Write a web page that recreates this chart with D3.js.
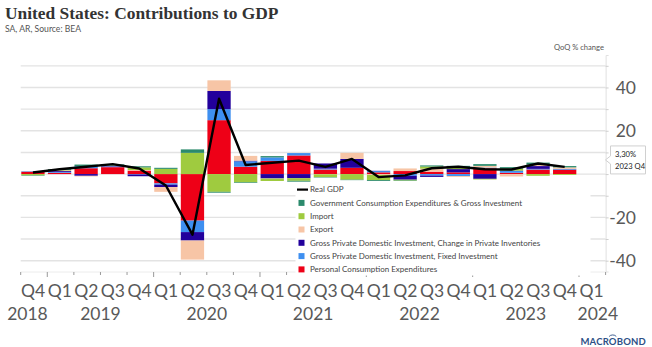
<!DOCTYPE html>
<html>
<head>
<meta charset="utf-8">
<script src="https://cdn.jsdelivr.net/npm/d3@7"></script>
<style>
  html, body { margin: 0; padding: 0; background: #fff; }
  svg { display: block; }
</style>
</head>
<body>
<svg id="chart" width="652" height="347"></svg>
<script>
// Quarterly periods on the category axis (last one has no data yet)
const periods = ["2018 Q4",
  "2019 Q1","2019 Q2","2019 Q3","2019 Q4",
  "2020 Q1","2020 Q2","2020 Q3","2020 Q4",
  "2021 Q1","2021 Q2","2021 Q3","2021 Q4",
  "2022 Q1","2022 Q2","2022 Q3","2022 Q4",
  "2023 Q1","2023 Q2","2023 Q3","2023 Q4",
  "2024 Q1"];

// Real GDP, QoQ % change, SAAR
const realGdp = [0.7, 2.2, 3.4, 4.6, 2.6, -5.3, -28.0, 34.8, 4.2, 5.2, 6.2, 3.3, 7.0,
  -1.4, -0.6, 2.7, 3.4, 2.2, 2.1, 4.9, 3.3];

// Contributions to GDP growth, percentage points
const pce = [1.0, 0.6, 2.7, 3.2, 1.6, -4.3, -21.5, 24.9, 3.4, 6.1, 8.6, 2.1, 2.9,
  0.8, 1.4, 1.1, 0.8, 2.7, 0.6, 2.1, 2.0];
const fixedInvestment = [0.2, 0.4, 0.9, 0.3, -0.2, -0.6, -5.3, 5.1, 2.5, 1.6, 1.1, 0.4, 0.0,
  0.6, -0.8, -0.7, -0.9, 0.3, 0.9, 0.3, 0.3];
const inventories = [0.1, 0.4, -0.8, 0.2, -0.8, -1.1, -3.9, 8.4, 0.3, -2.0, -1.9, 2.4, 4.1,
  0.1, -1.8, -0.6, 1.5, -2.2, 0.1, 1.3, 0.1];
const exportsC = [0.1, 0.3, -0.3, 0.2, 0.3, -2.2, -8.8, 4.9, 2.2, -0.1, 0.0, -0.1, 2.8,
  -0.4, 1.2, 1.4, -0.4, 0.8, -1.1, 0.6, 0.7];
const importsC = [-0.6, 0.2, 0.0, 0.0, 1.2, 2.4, 9.8, -8.2, -3.8, -1.1, -1.2, -1.3, -2.6,
  -2.4, -0.4, 1.0, 0.6, -0.3, 0.9, -0.8, -0.4];
const government = [-0.2, 0.4, 0.8, 0.6, 0.5, 0.5, 1.6, -0.4, -0.3, 0.6, -0.4, -0.2, -0.2,
  -0.4, -0.2, 0.5, 0.9, 0.8, 0.7, 1.0, 0.6];

// Y axis ticks
const yGridTicks = [-40, -30, -20, -10, 0, 10, 20, 30, 40, 50];
const yLabelTicks = [-40, -20, 20, 40];

// Series definitions (stack order, bottom up)
const seriesKeys = ["pce", "fixed", "inv", "exp", "imp", "gov"];
const seriesNames = {
  gdp: "Real GDP",
  gov: "Government Consumption Expenditures & Gross Investment",
  imp: "Import",
  exp: "Export",
  inv: "Gross Private Domestic Investment, Change in Private Inventories",
  fixed: "Gross Private Domestic Investment, Fixed Investment",
  pce: "Personal Consumption Expenditures"
};
const colors = {
  pce: "#ee0017", fixed: "#3e8ff0", inv: "#22009c",
  exp: "#f7c5a6", imp: "#9fcb3f", gov: "#2b8a6c"
};
const legendOrder = ["gdp", "gov", "imp", "exp", "inv", "fixed", "pce"];

const rows = realGdp.map((g, i) => ({
  period: periods[i], gdp: g,
  pce: pce[i], fixed: fixedInvestment[i], inv: inventories[i],
  exp: exportsC[i], imp: importsC[i], gov: government[i]
}));

const svg = d3.select("#chart");
const plot = { left: 20.7, right: 605.6, top: 55, bottom: 271.5 };

const x = d3.scaleBand().domain(periods).range([plot.left, plot.right]).padding(0);
const y = d3.scaleLinear().domain([-45, 55]).range([plot.bottom, plot.top]);

// Title and subtitle
svg.append("text").attr("x", 5).attr("y", 19)
  .attr("font-family", "'Liberation Serif', serif").attr("font-weight", "bold")
  .attr("font-size", 17.4).attr("fill", "#333")
  .text("United States: Contributions to GDP");
svg.append("text").attr("x", 5).attr("y", 31.5)
  .attr("font-family", "Lato, sans-serif").attr("font-size", 8.6).attr("fill", "#555")
  .text("SA, AR, Source: BEA");
svg.append("text").attr("x", 604).attr("y", 50).attr("text-anchor", "end")
  .attr("font-family", "Lato, sans-serif").attr("font-size", 7.6).attr("fill", "#555")
  .text("QoQ % change");

// Horizontal grid lines
svg.append("g").selectAll("line").data(yGridTicks).join("line")
  .attr("x1", plot.left).attr("x2", plot.right)
  .attr("y1", d => y(d)).attr("y2", d => y(d))
  .attr("stroke", "#e3e3e3").attr("stroke-width", 1.4);

// Right value axis
const yAxis = svg.append("g").attr("transform", `translate(${plot.right},0)`)
  .call(d3.axisRight(y).tickValues(yGridTicks).tickSize(3).tickFormat(""));
yAxis.select(".domain").attr("stroke", "#e0e0e0");
yAxis.selectAll(".tick line").attr("stroke", "#cfcfcf");
svg.append("g").selectAll("text").data(yLabelTicks).join("text")
  .attr("x", 636).attr("y", d => y(d)).attr("dy", "0.36em")
  .attr("text-anchor", "end")
  .attr("font-family", "Lato, sans-serif").attr("font-size", 17.5).attr("fill", "#595959")
  .text(d => d < 0 ? "-" + Math.abs(d) : d);

// Stacked contribution bars
const stack = d3.stack().keys(seriesKeys).offset(d3.stackOffsetDiverging);
const layers = stack(rows);
const barInset = 0.6, barWidth = x.bandwidth() - 3.3;
svg.append("g").selectAll("g").data(layers).join("g")
  .attr("fill", d => colors[d.key])
  .selectAll("rect").data(d => d).join("rect")
  .attr("x", d => x(d.data.period) + barInset)
  .attr("width", barWidth)
  .attr("y", d => y(Math.max(d[0], d[1])))
  .attr("height", d => Math.abs(y(d[0]) - y(d[1])));

// Real GDP line
const line = d3.line()
  .x(d => x(d.period) + barInset + barWidth / 2)
  .y(d => y(d.gdp));
svg.append("path").datum(rows).attr("d", line)
  .attr("fill", "none").attr("stroke", "#000").attr("stroke-width", 2.4)
  .attr("stroke-linejoin", "round");

// Category axis: baseline, quarter ticks, longer ticks at year boundaries
const xAxisY = 272;
svg.append("line").attr("x1", plot.left).attr("x2", plot.right)
  .attr("y1", xAxisY).attr("y2", xAxisY).attr("stroke", "#ececec");
const boundaries = periods.map(p => x(p)).concat([plot.right]);
svg.append("g").selectAll("line").data(boundaries).join("line")
  .attr("x1", d => d).attr("x2", d => d)
  .attr("y1", xAxisY)
  .attr("y2", (d, i) => (i < periods.length && periods[i].endsWith("Q1")) ? xAxisY + 5 : xAxisY + 3)
  .attr("stroke", "#9a9a9a");

svg.append("g").selectAll("text").data(periods).join("text")
  .attr("x", p => x(p) + x.bandwidth() / 2 - 0.8).attr("y", 296.5)
  .attr("text-anchor", "middle")
  .attr("font-family", "Lato, sans-serif").attr("font-size", 17.5).attr("fill", "#595959")
  .text(p => p.split(" ")[1]);

// Year labels: centred on full years, pinned to the boundary for partial years
const years = Array.from(d3.group(periods, p => p.split(" ")[0]), ([yr, ps]) => ({ yr, ps }));
svg.append("g").selectAll("text").data(years).join("text")
  .attr("x", d => {
    const x0 = x(d.ps[0]), x1 = x(d.ps[d.ps.length - 1]) + x.bandwidth();
    if (d.ps.length === 4) return (x0 + x1) / 2;
    return d.ps[0].endsWith("Q1") ? x0 - 1.5 : x1 + 0.5;
  })
  .attr("text-anchor", d => d.ps.length === 4 ? "middle" : (d.ps[0].endsWith("Q1") ? "start" : "end"))
  .attr("y", 320)
  .attr("font-family", "Lato, sans-serif").attr("font-size", 17.5).attr("fill", "#595959")
  .text(d => d.yr);

// Legend
const legend = svg.append("g");
legend.append("rect").attr("x", 295.5).attr("y", 183.5).attr("width", 295).attr("height", 92)
  .attr("fill", "#fff");
const legendItems = legend.selectAll("g.item").data(legendOrder).join("g")
  .attr("class", "item")
  .attr("transform", (d, i) => `translate(0,${189.6 + i * 13.3})`);
legendItems.filter(d => d === "gdp").append("line")
  .attr("x1", 297).attr("x2", 308).attr("y1", 0).attr("y2", 0)
  .attr("stroke", "#000").attr("stroke-width", 2.2);
legendItems.filter(d => d !== "gdp").append("rect")
  .attr("x", 298.5).attr("y", -3).attr("width", 6).attr("height", 6)
  .attr("fill", d => colors[d]);
legendItems.append("text").attr("x", 310).attr("dy", "0.35em")
  .attr("font-family", "Lato, sans-serif").attr("font-size", 8.0).attr("fill", "#444")
  .text(d => seriesNames[d]);

// Last value callout on the value axis
const lastRow = rows[rows.length - 1];
const cy = y(lastRow.gdp) - 7;
const callout = svg.append("g");
callout.append("path")
  .attr("d", `M610.5,${cy - 14} H645.5 V${cy + 14} H610.5 V${cy + 4} L605.5,${cy} L610.5,${cy - 4} Z`)
  .attr("fill", "#fff").attr("stroke", "#d0d0d0");
callout.append("text").attr("x", 615).attr("y", cy - 3)
  .attr("font-family", "Lato, sans-serif").attr("font-size", 7.6).attr("fill", "#222")
  .text(d3.format(".2f")(lastRow.gdp).replace(".", ",") + "%");
callout.append("text").attr("x", 615).attr("y", cy + 8.7)
  .attr("font-family", "Lato, sans-serif").attr("font-size", 7.6).attr("fill", "#222")
  .text(lastRow.period);

// Brand mark with the arc over its second "O"
const brand = svg.append("text").attr("x", 646).attr("y", 345).attr("text-anchor", "end")
  .attr("font-family", "Lato, sans-serif").attr("font-weight", "bold")
  .attr("font-size", 9.5).attr("fill", "#2d4f86").attr("letter-spacing", 0.2)
  .text("MACROBOND");
const bnode = brand.node();
const bStart = 646 - bnode.getComputedTextLength();
const oLeft = bStart + bnode.getSubStringLength(0, 4);
const oWidth = bnode.getSubStringLength(4, 1);
const oCx = oLeft + oWidth / 2 - 0.1;
svg.append("path")
  .attr("d", `M${oCx - 3.6},${336.5} A4.2,3.2 0 0 1 ${oCx + 3.6},${336.5}`)
  .attr("fill", "none").attr("stroke", "#2d4f86").attr("stroke-width", 0.9);
</script>
</body>
</html>
